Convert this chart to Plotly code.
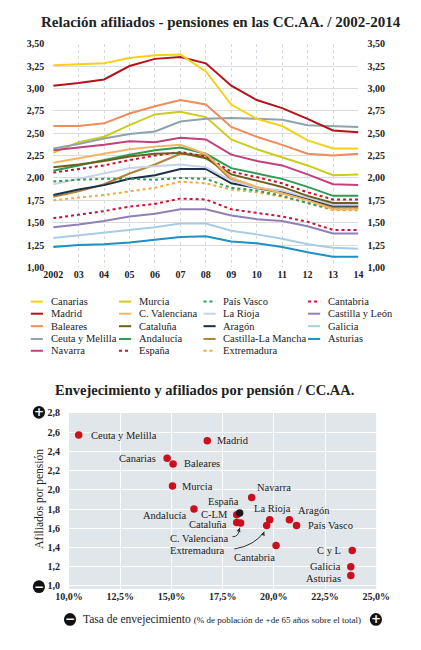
import plotly.graph_objects as go

# Datos: relacion afiliados / pensiones 2002-2014
years = list(range(2002, 2015))
year_labels = ["2002", "03", "04", "05", "06", "07", "08", "09", "10", "11", "12", "13", "14"]

canarias = [3.26, 3.27, 3.28, 3.34, 3.37, 3.38, 3.19, 2.82, 2.66, 2.58, 2.42, 2.33, 2.33]
madrid = [3.03, 3.06, 3.10, 3.25, 3.33, 3.35, 3.28, 3.03, 2.87, 2.78, 2.66, 2.53, 2.51]
baleares = [2.58, 2.58, 2.61, 2.72, 2.80, 2.87, 2.82, 2.57, 2.46, 2.37, 2.27, 2.25, 2.27]
ceuta_melilla = [2.33, 2.38, 2.44, 2.49, 2.52, 2.63, 2.66, 2.67, 2.66, 2.65, 2.59, 2.58, 2.57]
navarra = [2.31, 2.34, 2.37, 2.41, 2.40, 2.45, 2.43, 2.26, 2.19, 2.14, 2.04, 1.93, 1.92]
murcia = [2.28, 2.40, 2.46, 2.59, 2.71, 2.74, 2.68, 2.43, 2.32, 2.23, 2.14, 2.03, 2.04]
c_valenciana = [2.17, 2.22, 2.27, 2.32, 2.35, 2.37, 2.27, 2.00, 1.90, 1.83, 1.75, 1.65, 1.65]
cataluna = [2.12, 2.15, 2.19, 2.24, 2.27, 2.28, 2.22, 2.04, 1.97, 1.90, 1.80, 1.72, 1.72]
andalucia = [2.08, 2.14, 2.20, 2.26, 2.31, 2.34, 2.27, 2.11, 2.05, 1.99, 1.90, 1.80, 1.80]
espana = [2.06, 2.10, 2.14, 2.20, 2.25, 2.29, 2.24, 2.07, 2.01, 1.94, 1.84, 1.76, 1.76]
pais_vasco = [1.96, 1.98, 1.99, 1.99, 1.98, 2.00, 1.99, 1.89, 1.86, 1.80, 1.72, 1.65, 1.65]
la_rioja = [1.93, 1.99, 2.05, 2.11, 2.13, 2.15, 2.12, 1.97, 1.89, 1.86, 1.78, 1.70, 1.70]
aragon = [1.81, 1.87, 1.92, 1.99, 2.03, 2.10, 2.10, 1.94, 1.89, 1.84, 1.77, 1.69, 1.69]
castilla_la_mancha = [1.79, 1.85, 1.93, 2.05, 2.15, 2.27, 2.25, 1.98, 1.89, 1.83, 1.76, 1.67, 1.67]
extremadura = [1.75, 1.78, 1.81, 1.85, 1.89, 1.96, 1.94, 1.87, 1.84, 1.79, 1.72, 1.64, 1.64]
cantabria = [1.55, 1.59, 1.63, 1.68, 1.71, 1.77, 1.76, 1.65, 1.61, 1.57, 1.51, 1.42, 1.42]
castilla_leon = [1.45, 1.48, 1.52, 1.57, 1.60, 1.65, 1.65, 1.58, 1.54, 1.52, 1.46, 1.38, 1.38]
galicia = [1.33, 1.36, 1.39, 1.42, 1.45, 1.49, 1.49, 1.41, 1.37, 1.32, 1.26, 1.22, 1.21]
asturias = [1.23, 1.25, 1.26, 1.28, 1.31, 1.34, 1.35, 1.29, 1.27, 1.23, 1.17, 1.12, 1.12]

# Datos: envejecimiento vs afiliados por pension
sc_names = ["Ceuta y Melilla", "Madrid", "Canarias", "Baleares", "Murcia", "Navarra",
            "Andalucía", "C-LM", "Cataluña", "C. Valenciana", "La Rioja", "Extremadura",
            "Aragón", "País Vasco", "Cantabria", "C y L", "Galicia", "Asturias", "España"]
envejecimiento = [10.47, 16.75, 14.79, 15.08, 15.05, 18.92, 16.10, 18.19, 18.19, 18.38,
                  19.80, 19.65, 20.76, 21.11, 20.11, 23.83, 23.76, 23.76, 18.33]
afiliados_pension = [2.57, 2.51, 2.33, 2.27, 2.04, 1.92, 1.80, 1.74, 1.66, 1.655,
                     1.69, 1.63, 1.69, 1.63, 1.42, 1.37, 1.20, 1.11, 1.76]

# columnas de la leyenda (orden como en el original)
series = [
    [("Canarias", canarias, "#f7d117", "solid"),
     ("Madrid", madrid, "#b5121b", "solid"),
     ("Baleares", baleares, "#f08c5a", "solid"),
     ("Ceuta y Melilla", ceuta_melilla, "#8fa3ad", "solid"),
     ("Navarra", navarra, "#c2417c", "solid")],
    [("Murcia", murcia, "#cccc1e", "solid"),
     ("C. Valenciana", c_valenciana, "#f5b462", "solid"),
     ("Cataluña", cataluna, "#6e5f1e", "solid"),
     ("Andalucía", andalucia, "#2e9b52", "solid"),
     ("España", espana, "#cc1030", "dot")],
    [("País Vasco", pais_vasco, "#2e9b52", "dot"),
     ("La Rioja", la_rioja, "#c9d2e8", "solid"),
     ("Aragón", aragon, "#1b3147", "solid"),
     ("Castilla-La Mancha", castilla_la_mancha, "#b3823a", "solid"),
     ("Extremadura", extremadura, "#f5a840", "dot")],
    [("Cantabria", cantabria, "#c8143c", "dot"),
     ("Castilla y León", castilla_leon, "#8f80b5", "solid"),
     ("Galicia", galicia, "#a9cce4", "solid"),
     ("Asturias", asturias, "#1e90c3", "solid")],
]

W, H = 421, 650
SERIF = "Liberation Serif"


def px(x):
    return x / W


def py(y):
    return 1 - y / H


fig = go.Figure()

# lineas
for col in reversed(series):
    for name, vals, color, dash in reversed(col):
        fig.add_trace(go.Scatter(x=years, y=vals, mode="lines", name=name,
                                 line=dict(color=color, width=2, dash=dash),
                                 xaxis="x", yaxis="y", showlegend=False))
# eje derecho
fig.add_trace(go.Scatter(x=years, y=canarias, mode="lines", line=dict(width=0),
                         xaxis="x", yaxis="y2", showlegend=False, hoverinfo="skip"))

# dispersion
dot_colors = ["#1a1a1a" if n == "España" else "#c8101e" for n in sc_names]
fig.add_trace(go.Scatter(x=envejecimiento, y=afiliados_pension, mode="markers",
                         marker=dict(color=dot_colors, size=7.5), text=sc_names,
                         xaxis="x2", yaxis="y3", showlegend=False))

# leyenda manual
col_x = [18, 112.5, 203, 315]
row_y = [300.7, 313, 325.7, 338.7, 350.7]
shapes = []
annotations = []
for ci, col in enumerate(series):
    for ri, (name, vals, color, dash) in enumerate(col):
        yy = py(row_y[ri])
        shapes.append(dict(type="line", xref="paper", yref="paper",
                           x0=px(col_x[ci]), x1=px(col_x[ci] + 13), y0=yy, y1=yy,
                           line=dict(color=color, width=2, dash=dash)))
        annotations.append(dict(text=name, xref="paper", yref="paper",
                                x=px(col_x[ci] + 19), y=yy, xanchor="left", yanchor="middle",
                                showarrow=False, font=dict(family=SERIF, size=10.5, color="#222")))

# titulos
annotations.append(dict(text="<b>Relación afiliados - pensiones en las CC.AA. / 2002-2014</b>",
                        xref="paper", yref="paper", x=px(222), y=py(16), showarrow=False,
                        xanchor="center", yanchor="middle",
                        font=dict(family=SERIF, size=15, color="#222")))
annotations.append(dict(text="<b>Envejecimiento y afiliados por pensión / CC.AA.</b>",
                        xref="paper", yref="paper", x=px(42), y=py(391), showarrow=False,
                        xanchor="left", yanchor="middle",
                        font=dict(family=SERIF, size=14.5, color="#222")))
annotations.append(dict(text="Tasa de envejecimiento <span style='font-size:9px'>(% de población de +de 65 años sobre el total)</span>",
                        xref="paper", yref="paper", x=px(223), y=py(624), showarrow=False,
                        xanchor="center", yanchor="middle",
                        font=dict(family=SERIF, size=11.5, color="#222")))
annotations.append(dict(text="Afiliados por pensión", textangle=-90,
                        xref="paper", yref="paper", x=px(27), y=py(501), showarrow=False,
                        xanchor="center", yanchor="middle",
                        font=dict(family=SERIF, size=11.5, color="#222")))

# iconos + / -
for cx, cy, sign in [(26.7, 413.3, "+"), (26.7, 590.7, "−"), (60, 624, "−"), (387.7, 624, "+")]:
    shapes.append(dict(type="circle", xref="paper", yref="paper",
                       x0=px(cx - 6.5), x1=px(cx + 6.5), y0=py(cy + 6.5), y1=py(cy - 6.5),
                       fillcolor="#111", line=dict(width=0)))
    annotations.append(dict(text="<b>%s</b>" % sign, xref="paper", yref="paper",
                            x=px(cx), y=py(cy), showarrow=False, xanchor="center", yanchor="middle",
                            font=dict(family="DejaVu Sans", size=12, color="white")))

# fondo dispersion
shapes.append(dict(type="rect", xref="x2 domain", yref="y3 domain", x0=0, x1=1, y0=0, y1=1,
                   fillcolor="#e1e6ea", line=dict(width=0), layer="below"))

# etiquetas de los puntos
label_pos = {
    "Ceuta y Melilla": ("left", 10, 0), "Madrid": ("left", 8, 0), "Canarias": ("right", -9, 0),
    "Baleares": ("left", 9, 0), "Murcia": ("left", 8, 0), "Navarra": ("left", 3, 10),
    "Andalucía": ("right", -6, -6), "España": ("right", 1, 11), "C-LM": ("right", -7, 0),
    "Cataluña": ("right", -8, -2), "C. Valenciana": ("right", -11, -15),
    "La Rioja": ("center", 3, 11), "Extremadura": ("right", -40, -25),
    "Aragón": ("left", 7, 9), "País Vasco": ("left", 9, 0), "Cantabria": ("center", -22, -12),
    "C y L": ("right", -9, 0), "Galicia": ("right", -8, 0), "Asturias": ("right", -8, -3),
}
for n, xv, yv in zip(sc_names, envejecimiento, afiliados_pension):
    anchor, dx, dy = label_pos[n]
    annotations.append(dict(text=n, xref="x2", yref="y3", x=xv, y=yv, showarrow=False,
                            xanchor=anchor, yanchor="middle", xshift=dx, yshift=dy,
                            font=dict(family=SERIF, size=10.5, color="#222")))

# flechas curvas
for x0, y0, xc, yc, x1, y1 in [(17.98, 1.512, 18.3, 1.51, 18.34, 1.605),
                               (18.07, 1.385, 19.07, 1.42, 19.53, 1.565)]:
    shapes.append(dict(type="path", xref="x2", yref="y3",
                       path="M %s %s Q %s %s %s %s" % (x0, y0, xc, yc, x1, y1),
                       line=dict(color="#333", width=1)))
    annotations.append(dict(text="", xref="x2", yref="y3", x=x1, y=y1, ax=x1 - 0.08, ay=y1 - 0.05,
                            axref="x2", ayref="y3", showarrow=True, arrowhead=2, arrowsize=0.8,
                            arrowwidth=1, arrowcolor="#333"))

fig.update_layout(
    width=W, height=H, autosize=False,
    margin=dict(l=0, r=0, t=0, b=0),
    paper_bgcolor="white", plot_bgcolor="white",
    separators=",.",
    shapes=shapes, annotations=annotations,
    xaxis=dict(domain=[px(42), px(369)], range=[2002, 2014], tickvals=years, ticktext=year_labels,
               showgrid=True, gridcolor="#d3d9e0", griddash="dot", gridwidth=1,
               zeroline=False, showline=False, ticks="", anchor="y",
               tickfont=dict(family=SERIF, size=10, color="#222", weight="bold")),
    yaxis=dict(domain=[py(266), py(38.3)], range=[1, 3.5], dtick=0.25, tickformat=".2f",
               showgrid=True, gridcolor="#dcdcdc", zeroline=False, ticks="",
               ticklabelstandoff=8, anchor="x",
               tickfont=dict(family=SERIF, size=10, color="#222", weight="bold")),
    yaxis2=dict(overlaying="y", side="right", range=[1, 3.5], dtick=0.25, tickformat=".2f",
                showgrid=False, zeroline=False, ticks="", ticklabelstandoff=8, anchor="x",
                tickfont=dict(family=SERIF, size=10, color="#222", weight="bold")),
    xaxis2=dict(domain=[px(59), px(388)], range=[10, 25], dtick=2.5, tickformat=".1f",
                ticksuffix="%", showgrid=True, gridcolor="white", gridwidth=1,
                zeroline=False, ticks="", anchor="y3",
                tickfont=dict(family=SERIF, size=10, color="#222", weight="bold")),
    yaxis3=dict(domain=[py(593), py(414)], range=[0.969, 2.8], tickvals=[1.0, 1.2, 1.4, 1.6, 1.8, 2.0, 2.2, 2.4, 2.6, 2.8],
                tickformat=".1f", showgrid=True, gridcolor="white", gridwidth=1,
                zeroline=False, ticks="", ticklabelstandoff=8, anchor="x2",
                tickfont=dict(family=SERIF, size=10, color="#222", weight="bold")),
)

fig.write_html("out.html", config={"displayModeBar": False},
               post_script="document.body.style.margin='0';document.body.style.overflow='hidden';")
